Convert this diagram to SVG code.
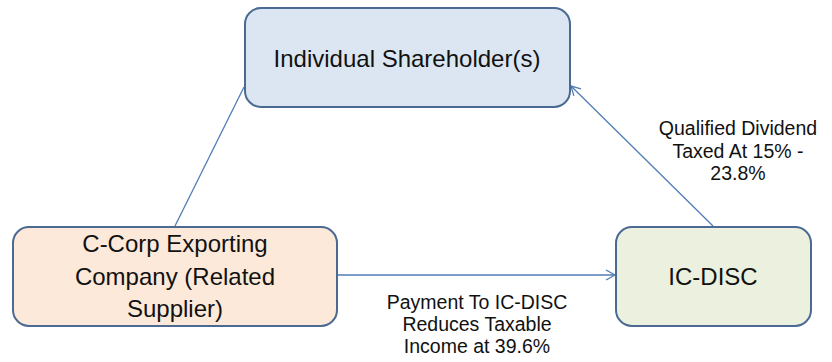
<svg xmlns="http://www.w3.org/2000/svg" width="832" height="362" viewBox="0 0 832 362">
<style>
.box{stroke:#4a6a94;stroke-width:2}
.t{font-family:"Liberation Sans",Arial,sans-serif;fill:#111;text-anchor:middle}
.big{font-size:24px}
.lbl{font-size:19.5px}
.c{stroke:#4f7db5;stroke-width:1.3;fill:none}
</style>
<defs>
<marker id="ah" markerWidth="12" markerHeight="12" refX="10" refY="6" orient="auto" markerUnits="userSpaceOnUse">
<path d="M1,1 L10,6 L1,11" fill="none" stroke="#4f7db5" stroke-width="1.3"/>
</marker>
</defs>
<rect width="832" height="362" fill="#fff"/>
<g id="connectors">
<line class="c" x1="175" y1="226" x2="244" y2="87"/>
<line class="c" x1="713" y1="226" x2="571" y2="86" marker-end="url(#ah)"/>
<line class="c" x1="338" y1="275" x2="615" y2="275" marker-end="url(#ah)"/>
<text class="t lbl" x="738" y="135">Qualified Dividend</text>
<text class="t lbl" x="738" y="158">Taxed At 15% -</text>
<text class="t lbl" x="738" y="180">23.8%</text>
<text class="t lbl" x="477" y="309">Payment To IC-DISC</text>
<text class="t lbl" x="477" y="331">Reduces Taxable</text>
<text class="t lbl" x="477" y="353">Income at 39.6%</text>
</g>
<g id="shareholder">
<rect class="box" x="245" y="8" width="325" height="99" rx="16" fill="#dce6f2"/>
<text class="t big" x="407" y="67">Individual Shareholder(s)</text>
</g>
<g id="ccorp">
<rect class="box" x="13" y="227" width="324" height="99" rx="16" fill="#fde9d9"/>
<text class="t big" x="175" y="252">C-Corp Exporting</text>
<text class="t big" x="175" y="285">Company (Related</text>
<text class="t big" x="175" y="317">Supplier)</text>
</g>
<g id="icdisc">
<rect class="box" x="616" y="227" width="195" height="99" rx="16" fill="#ebf1de"/>
<text class="t big" x="713" y="285">IC-DISC</text>
</g>
</svg>
